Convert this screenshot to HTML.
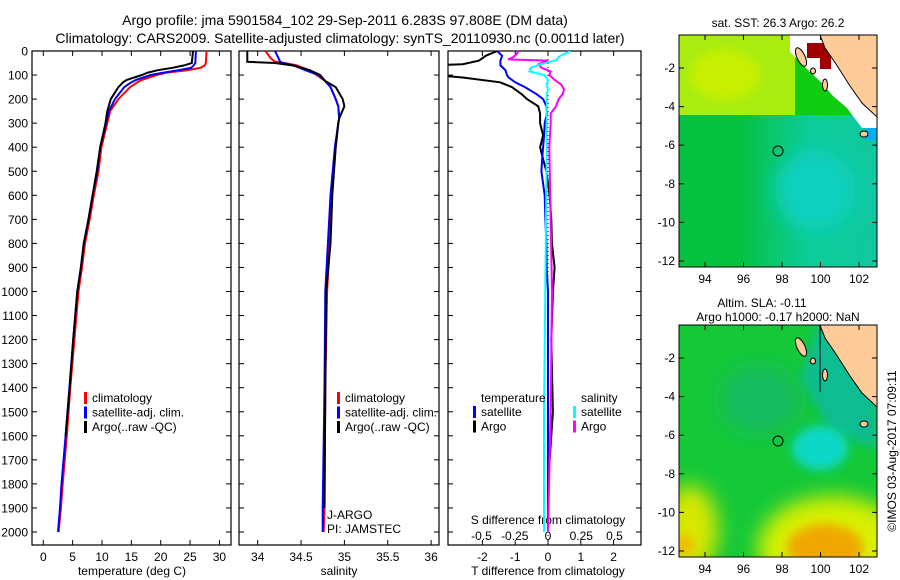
<!DOCTYPE html>
<html><head><meta charset="utf-8"><style>
html,body{margin:0;padding:0;background:#fff;width:900px;height:580px;overflow:hidden}
svg{display:block;overflow:hidden}
svg text{font-family:"Liberation Sans",sans-serif;fill:#000}
</style></head><body>
<svg id="chart" width="900" height="580" viewBox="0 0 900 580" xmlns="http://www.w3.org/2000/svg">
<defs>
<filter id="blur" x="-50%" y="-50%" width="200%" height="200%"><feGaussianBlur stdDeviation="10"/></filter>
<filter id="blur2" x="-50%" y="-50%" width="200%" height="200%"><feGaussianBlur stdDeviation="5"/></filter>
<clipPath id="cp1"><rect x="33" y="51" width="198" height="494"/></clipPath>
<clipPath id="cp2"><rect x="240" y="51" width="199" height="494"/></clipPath>
<clipPath id="cp3"><rect x="448" y="51" width="193" height="494"/></clipPath>
<clipPath id="cm1"><rect x="679" y="35" width="198" height="232"/></clipPath>
<clipPath id="cm2"><rect x="679" y="325" width="198" height="232"/></clipPath>
</defs>
<text x="345" y="25" font-size="14" text-anchor="middle">Argo profile: jma 5901584_102 29-Sep-2011 6.283S 97.808E (DM data)</text>
<text x="340" y="43" font-size="14" text-anchor="middle">Climatology: CARS2009. Satellite-adjusted climatology: synTS_20110930.nc (0.0011d later)</text>

<g id="maps">
<g clip-path="url(#cm1)">
<defs><linearGradient id="g1b" x1="0" y1="0" x2="1" y2="0"><stop offset="0.3" stop-color="#06c040"/><stop offset="0.65" stop-color="#0ccc98"/><stop offset="1" stop-color="#10c8a0"/></linearGradient></defs>
<rect x="679" y="35" width="198" height="232" fill="url(#g1b)"/>
<rect x="679" y="35" width="120" height="80" fill="#a8ec10"/>
<rect x="795" y="35" width="82" height="80" fill="#10cc10"/>
<ellipse cx="815" cy="190" rx="40" ry="40" fill="#10d0c0" filter="url(#blur)"/>
<ellipse cx="725" cy="75" rx="35" ry="25" fill="#c8f000" filter="url(#blur2)"/>
<polygon points="790,35 822,35 877,117 877,128 862,128 847,108 833,96 821,82 810,72 800,62 790,52" fill="#fff"/>
<rect x="807" y="43" width="24" height="15" fill="#a00000"/><rect x="820" y="58" width="11" height="11" fill="#a00000"/>
<polygon points="820,35 877,35 877,117 862,103 850,86 836,64 825,48" fill="#ffcc99" stroke="#000" stroke-width="1"/>
<ellipse cx="801" cy="57" rx="4" ry="10" fill="#ffcc99" stroke="#000" transform="rotate(-25 801 57)"/>
<ellipse cx="813" cy="71" rx="2.5" ry="3" fill="#ffcc99" stroke="#000"/>
<ellipse cx="825" cy="85" rx="2.5" ry="6" fill="#ffcc99" stroke="#000"/>
<rect x="865" y="128" width="12" height="12" fill="#00b0f0"/>
<ellipse cx="864" cy="134" rx="4" ry="3" fill="#ffcc99" stroke="#000"/>
<circle cx="778" cy="151" r="5" fill="none" stroke="#000"/>
</g>
<rect x="679" y="35" width="198" height="232" fill="none" stroke="#000"/>
<text x="778" y="27" font-size="12" text-anchor="middle">sat. SST: 26.3 Argo: 26.2</text>
<g clip-path="url(#cm2)">
<rect x="679" y="325" width="198" height="232" fill="#14c838"/>
<polygon points="818,325 877,325 877,450 830,430 800,380" fill="#08bc90" filter="url(#blur2)"/>
<ellipse cx="820" cy="448" rx="28" ry="22" fill="#10d8c8" filter="url(#blur2)"/>
<ellipse cx="760" cy="400" rx="40" ry="35" fill="#18bc60" filter="url(#blur)"/>
<ellipse cx="833" cy="548" rx="75" ry="52" fill="#d8f000" filter="url(#blur)"/>
<ellipse cx="825" cy="548" rx="38" ry="24" fill="#f0a800" filter="url(#blur2)"/>
<ellipse cx="690" cy="530" rx="28" ry="45" fill="#d8e800" filter="url(#blur)"/>
<ellipse cx="684" cy="545" rx="10" ry="10" fill="#f0b800" filter="url(#blur2)"/>
<polygon points="820,325 877,325 877,407 862,393 850,376 836,354 825,338" fill="#ffcc99" stroke="#000" stroke-width="1"/>
<line x1="820" y1="325" x2="820" y2="392" stroke="#000"/>
<ellipse cx="801" cy="347" rx="4" ry="10" fill="#ffcc99" stroke="#000" transform="rotate(-25 801 347)"/>
<ellipse cx="813" cy="361" rx="2.5" ry="3" fill="#ffcc99" stroke="#000"/>
<ellipse cx="825" cy="375" rx="2.5" ry="6" fill="#ffcc99" stroke="#000"/>
<ellipse cx="864" cy="424" rx="4" ry="3" fill="#ffcc99" stroke="#000"/>
<circle cx="778" cy="441" r="5" fill="none" stroke="#000"/>
</g>
<rect x="679" y="325" width="198" height="232" fill="none" stroke="#000"/>
<text x="762" y="307" font-size="12" text-anchor="middle">Altim. SLA: -0.11</text>
<text x="778" y="321" font-size="12" text-anchor="middle">Argo h1000: -0.17 h2000: NaN</text>
<text x="0" y="0" font-size="12" text-anchor="middle" transform="translate(896,451) rotate(-90)">©IMOS 03-Aug-2017 07:09:11</text>
</g>
<g id="plots"></g>
</svg>
<script>
const depthT = [0,50,60,70,80,90,100,120,130,150,200,250,300,400,500,600,700,800,900,1000,1200,1400,1600,1800,1900,2000];
const tempClim = [27.8,27.7,27.5,26.8,24.5,21,19.3,16.8,16,14.8,12.8,11.4,10.9,9.9,9.4,8.6,7.9,7.1,6.6,6.0,5.3,4.6,4.0,3.3,3.0,2.6];
const tempSat  = [26.0,25.9,25.6,25.2,23.0,20.5,18.3,15.8,15.0,13.8,12.2,11.2,10.7,9.7,9.2,8.4,7.7,6.9,6.4,5.8,5.1,4.45,3.8,3.1,2.85,2.5];
const tempArgo = [25.5,25.3,24.0,22.0,19.5,17.8,16.8,14.2,13.6,12.8,11.5,10.9,10.6,9.7,9.1,8.4,7.7,6.9,6.4,5.8,5.1,4.5,3.8];
const depthS = [0,30,45,50,60,80,100,125,150,200,230,280,300,400,600,800,1000,1400,1900,2000];
const salClim = [34.09,34.15,34.2,34.31,34.45,34.59,34.68,34.78,34.84,34.9,34.93,34.94,34.93,34.9,34.85,34.83,34.8,34.78,34.77,34.76];
const salSat  = [34.2,34.24,34.26,34.29,34.42,34.55,34.70,34.78,34.84,34.9,34.93,34.94,34.93,34.89,34.84,34.81,34.78,34.77,34.75,34.75];
const salArgo = [33.88,33.88,33.88,34.2,34.4,34.6,34.72,34.78,34.9,34.98,35.0,34.94,34.93,34.9,34.86,34.84,34.79,34.78,34.77];
const depthD = [0,20,40,55,60,80,100,110,130,150,180,200,230,260,300,350,400,450,500,600,700,800,900,1000,1200,1500,1800,2000];
const dTArgo = [-1.55,-1.9,-2.1,-2.6,-3.5,-3.5,-3.5,-2.6,-1.46,-1.1,-0.8,-0.64,-0.3,-0.24,-0.24,-0.15,-0.24,-0.15,-0.05,0.05,0.1,0.12,0.2,0.15,0.1,0.15,0.0,0.0];
const dTSat  = [-1.55,-1.4,-1.45,-1.45,-1.45,-1.3,-1.25,-1.2,-1.0,-0.7,-0.34,-0.15,-0.05,-0.03,-0.1,-0.12,-0.15,-0.18,-0.2,-0.1,-0.08,-0.05,-0.04,0,0,0,0,0];
const depthDS = [0,15,25,35,40,55,70,85,100,120,140,160,180,200,230,260,300,400,1000,1500,2000];
const dSArgo = [-0.22,-0.24,-0.26,-0.3,0,-0.07,-0.05,0.02,0.01,0.05,0.1,0.12,0.11,0.08,0.06,0.02,0.02,0.01,0.03,0.02,0.0];
const dSSat  = [0.17,0.11,0.08,0.07,0.05,-0.05,-0.13,-0.14,-0.03,0,-0.01,0,-0.01,-0.01,-0.01,-0.01,-0.01,-0.01,-0.02,-0.03,-0.03];
const depthTicks = [0,100,200,300,400,500,600,700,800,900,1000,1100,1200,1300,1400,1500,1600,1700,1800,1900,2000];
const tempTicks = [0,5,10,15,20,25,30];
const salTicks = [34,34.5,35,35.5,36];
const dTTicks = [-2,-1,0,1,2];
const dSTicks = [-0.5,-0.25,0,0.25,0.5];
const dSTickLabels = ['-0.5','-0.25','0','0.25','0.5'];
const latTicks = [-2,-4,-6,-8,-10,-12];
const lonTicks = [94,96,98,100,102];

const yD = d => 51 + d*0.2405;
const xT = t => 43.3 + t*5.87;
const xS = s => 257.7 + (s-34)*86.7;
const xDT = v => 548 + v*32.8;
const xDS = v => 548 + v*133;
const yLat = (lat, top) => top + 33 + (-2-lat)*19.3;
const xLon = lon => 705 + (lon-94)*19.25;

const NS='http://www.w3.org/2000/svg';
const root=document.getElementById('plots');
function el(tag, attrs, parent){const e=document.createElementNS(NS,tag);for(const k in attrs)e.setAttribute(k,attrs[k]);(parent||root).appendChild(e);return e;}
function txt(x,y,s,size,anchor,parent){const t=el('text',{x:x,y:y,'font-size':size,'text-anchor':anchor},parent);t.textContent=s;return t;}

function line(depths, vals, xf, color, w, clip, name){
  const pts=[];for(let i=0;i<vals.length;i++)pts.push(xf(vals[i]).toFixed(1)+','+yD(depths[i]).toFixed(1));
  const p=el('polyline',{points:pts.join(' '),fill:'none',stroke:color,'stroke-width':w,'clip-path':'url(#'+clip+')'});
  
  
}
function frame(x0,x1,name){
  const r=el('rect',{x:x0,y:51,width:x1-x0,height:494,fill:'none',stroke:'#000','stroke-width':1.2});
  
  
  depthTicks.forEach(d=>{el('line',{x1:x0,y1:yD(d),x2:x0+5,y2:yD(d),stroke:'#000'});el('line',{x1:x1-5,y1:yD(d),x2:x1,y2:yD(d),stroke:'#000'});});
}
function xticks(vals,xf,labels,y,name){
  vals.forEach((v,i)=>{const x=xf(v);el('line',{x1:x,y1:545,x2:x,y2:540,stroke:'#000'});el('line',{x1:x,y1:51,x2:x,y2:56,stroke:'#000'});
    const t=txt(x,y,labels?labels[i]:String(v),12,'middle');
    
    });
}
function legend(x,y,items,name){
  items.forEach((it,i)=>{const yy=y+i*14.5;el('rect',{x:x,y:yy-10,width:3,height:12,fill:it[0]});
    const t=txt(x+8,yy,it[1],12,'start');
    
    });
}

frame(32,231,'temperature-panel');
depthTicks.forEach(d=>{const t=txt(28,yD(d)+4.5,String(d),12,'end');
  
  });
xticks(tempTicks,xT,null,561,'temperature-tick-label');
txt(132,575,'temperature (deg C)',12,'middle');
line(depthT,tempClim,xT,'#ff0000',2,'cp1','temp-climatology-line');
line(depthT,tempSat,xT,'#0000ff',2,'cp1','temp-satellite-line');
line(depthT.slice(0,tempArgo.length),tempArgo,xT,'#000',2,'cp1','temp-argo-line');
legend(84,402,[['#ff0000','climatology'],['#0000ff','satellite-adj. clim.'],['#000','Argo(..raw -QC)']],'temperature-legend-entry');

frame(239,439,'salinity-panel');
xticks(salTicks,xS,['34','34.5','35','35.5','36'],561,'salinity-tick-label');
txt(339,575,'salinity',12,'middle');
line(depthS,salClim,xS,'#ff0000',2,'cp2','sal-climatology-line');
line(depthS,salSat,xS,'#0000ff',2,'cp2','sal-satellite-line');
line(depthS.slice(0,salArgo.length),salArgo,xS,'#000',2,'cp2','sal-argo-line');
legend(337,402,[['#ff0000','climatology'],['#0000ff','satellite-adj. clim.'],['#000','Argo(..raw -QC)']],'salinity-legend-entry');
txt(327,519,'J-ARGO',12,'start');
txt(327,533,'PI: JAMSTEC',12,'start');

frame(448,641,'difference-panel');
el('line',{x1:xDT(0),y1:51,x2:xDT(0),y2:545,stroke:'#000','stroke-dasharray':'1,3'});
xticks(dTTicks,xDT,null,561,'t-diff-tick-label');
dSTicks.forEach((v,i)=>{const t=txt(xDS(v),540,dSTickLabels[i],12,'middle');
  
  });
txt(548,524,'S difference from climatology',12,'middle');
txt(548,575,'T difference from climatology',12,'middle');
line(depthD,dTArgo,xDT,'#000',2,'cp3','t-diff-argo-line');
line(depthD,dTSat,xDT,'#0000ff',2,'cp3','t-diff-satellite-line');
line(depthDS,dSArgo,xDS,'#ff00ff',2,'cp3','s-diff-argo-line');
line(depthDS,dSSat,xDS,'#00ffff',2,'cp3','s-diff-satellite-line');
txt(481,402,'temperature',12,'start');
txt(581,402,'salinity',12,'start');
legend(473,416,[['#0000ff','satellite'],['#000','Argo']],'t-diff-legend-entry');
legend(573,416,[['#00ffff','satellite'],['#ff00ff','Argo']],'s-diff-legend-entry');

[35,325].forEach(top=>{
  latTicks.forEach(l=>{const y=yLat(l,top);el('line',{x1:679,y1:y,x2:684,y2:y,stroke:'#000'});el('line',{x1:872,y1:y,x2:877,y2:y,stroke:'#000'});
    const t=txt(675,y+4,String(l),12,'end');
    
    });
  lonTicks.forEach(l=>{const x=xLon(l);el('line',{x1:x,y1:top,x2:x,y2:top+5,stroke:'#000'});el('line',{x1:x,y1:top+227,x2:x,y2:top+232,stroke:'#000'});
    const t=txt(x,top+248,String(l),12,'middle');
    
    });
});
</script>
</body></html>
